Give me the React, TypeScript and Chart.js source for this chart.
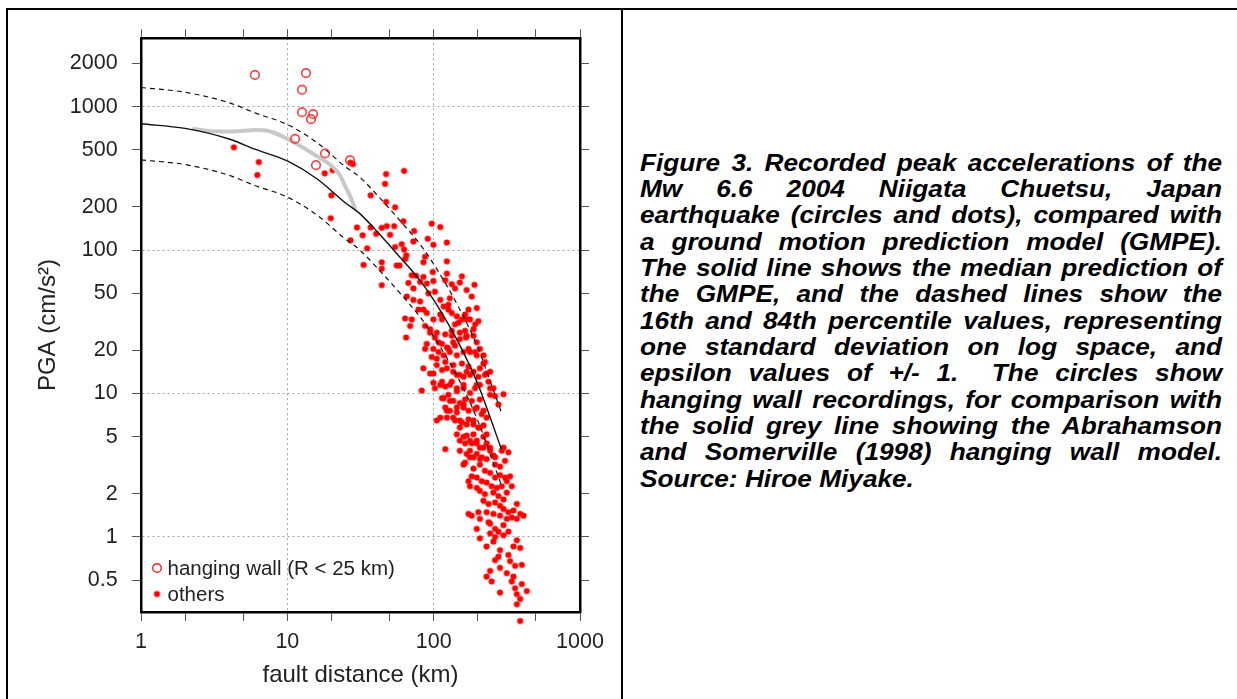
import React, { useEffect, useRef } from 'react';
import { Chart, registerables } from 'chart.js';

Chart.register(...registerables);

const FONT = '"Liberation Sans", Arial, Helvetica, sans-serif';

// ---- axis ticks ----
const xTickValues = [1, 2, 5, 10, 20, 50, 100, 200, 500, 1000];
const xTickLabels = ['1', '', '', '10', '', '', '100', '', '', '1000'];
const yTickValues = [0.5, 1, 2, 5, 10, 20, 50, 100, 200, 500, 1000, 2000];
const yTickLabels = ['0.5', '1', '2', '5', '10', '20', '50', '100', '200', '500', '1000', '2000'];

// ---- GMPE median and +/- 1 sigma ----
const gmpeDistance = [1, 2, 4, 6, 10, 16, 25, 31, 43, 59, 80, 100, 150, 200, 250, 290];
const gmpeMedian = [760, 705, 595, 505, 418, 313, 213, 181, 128, 89, 62, 45, 22, 11.7, 6.3, 4.1];
const gmpePlusSigma = [1360, 1260, 1065, 905, 750, 560, 380, 325, 230, 160, 111, 80, 39, 21, 11.3, 7.4];
const gmpeMinusSigma = [425, 395, 332, 282, 234, 175, 119, 101, 71.5, 50, 34.6, 25, 12.3, 6.5, 3.5, 2.3];

// ---- Abrahamson & Somerville (1998) hanging wall model (grey line) ----
const hwModelDistance = [2.3, 3, 4, 5, 6, 7, 8.2, 10, 12.5, 16, 20, 23, 25, 27, 29];
const hwModelPga = [700, 675, 670, 678, 688, 684, 655, 597, 525, 450, 387, 330, 275, 235, 196];

// ---- hanging wall recordings (open circles) ----
const hangingWallDistance = [6.0, 13.4, 12.6, 12.6, 15.0, 14.5, 11.3, 18.1, 15.7, 26.8];
const hangingWallPga = [1664, 1714, 1313, 914, 886, 818, 597, 472, 391, 423];

// ---- other recordings (filled dots): [fault distance km, PGA cm/s2] ----
const othersRecords: [number, number][] = [
  [4.31, 521], [6.38, 411], [6.24, 334], [18.0, 343], [20.4, 361], [20.0, 241], [19.8, 167], [27.0, 407],
  [28.1, 398], [37.1, 241], [29.9, 144], [37.1, 144], [32.7, 127], [40.4, 130], [27.0, 117], [35.1, 103], [33.2, 78.9],
  [47.3, 339], [62.8, 357], [46.5, 290], [47.3, 217], [54.5, 199], [62.1, 159], [44.2, 143], [47.8, 147],
  [53.7, 147], [50.4, 128], [97.0, 153], [111, 145], [73.5, 136],
  [54.5, 105], [60.5, 110], [62.8, 101], [65, 92], [63.8, 86.7], [58.3, 78.2], [55.9, 78.2], [44.2, 82.3],
  [44.2, 74.2], [44.2, 57.0],
  [91.1, 120], [99.6, 109], [123, 113], [72.7, 115], [87.4, 90.0], [123, 83.6], [85.1, 82.3], [98.5, 70.4],
  [85.1, 65.0], [70.8, 66.8], [75.8, 66.3], [67.2, 59.1], [80.8, 60.1], [89.7, 58.5], [99.6, 61.0], [72.7, 54.1],
  [92.1, 50.0], [102, 51.3],
  [123, 68.6], [120, 61.7], [156, 65.7], [133, 57.9], [151, 59.5], [140, 54.1], [168, 52.7], [190, 57.3],
  [182, 47.5], [173, 38.5], [197, 39.5],
  [72.7, 45.0], [65.5, 47.5], [80.8, 43.9], [78.7, 38.5], [89.7, 36.5], [111, 45.0], [126, 41.6], [129, 46.2],
  [111, 35.6], [126, 38.5],
  [63.8, 33.4], [70.8, 32.9], [69.0, 29.6], [64.8, 24.6], [87.4, 29.6], [94.5, 28.1], [99.6, 32.9], [114, 32.9],
  [133, 36.5], [144, 34.6], [156, 32.9], [148, 31.2], [140, 30.4], [168, 32.9], [192, 30.4], [202, 32.0],
  [187, 28.1], [164, 27.4], [133, 27.4], [120, 25.9], [105, 26.6], [102, 24.6],
  [89.7, 22.2], [99.6, 20.5], [108, 22.8], [114, 22.2], [123, 21.0], [136, 22.8], [151, 24.0], [166, 24.6],
  [187, 25.3], [197, 22.8], [207, 20.5], [219, 18.5], [224, 16.6], [230, 13.8], [243, 14.2], [219, 16.2],
  [192, 19.5], [173, 20.5], [160, 19.5], [144, 18.5], [129, 19.5], [117, 18.5], [105, 17.5], [97.0, 18.0],
  [85.1, 15.0], [99.6, 13.8], [114, 14.6], [123, 15.0], [136, 15.8], [156, 16.2], [173, 15.4], [187, 14.2],
  [202, 13.1], [207, 11.5], [177, 13.5], [160, 13.1], [144, 13.5], [133, 12.1], [120, 11.2], [111, 11.5],
  [102, 10.9], [82.9, 10.5],
  [114, 9.3], [126, 9.8], [144, 10.4], [160, 10.9], [177, 10.1], [192, 10.9], [243, 10.9], [263, 9.6],
  [300, 9.9], [277, 8.4], [207, 9.1], [182, 8.9], [164, 9.1], [151, 8.6], [136, 8.9], [120, 8.0],
  [129, 7.6], [144, 7.4], [160, 8.0], [173, 7.6], [192, 7.8], [213, 7.2], [230, 6.8], [123, 6.8],
  [105, 6.5], [140, 6.5], [156, 6.3], [173, 6.6], [187, 6.1], [202, 5.8], [219, 6.0], [151, 5.8],
  [144, 5.2], [168, 5.1], [187, 5.2], [197, 4.7], [219, 5.0], [230, 4.5], [243, 4.2], [207, 4.2],
  [182, 4.5], [164, 4.5], [151, 4.7], [177, 4.0], [197, 3.8], [213, 3.6], [230, 3.5], [256, 3.7],
  [263, 3.2], [284, 3.1], [307, 3.4], [292, 4.0], [324, 3.9], [177, 3.6], [164, 3.3], [160, 3.2],
  [187, 3.0], [207, 3.2], [224, 2.9], [243, 2.8], [263, 2.6], [284, 2.7], [307, 2.6], [333, 2.65],
  [316, 2.45], [292, 2.26], [270, 2.2], [249, 2.26], [230, 2.4], [213, 2.45], [197, 2.6], [182, 2.65],
  [173, 2.45], [177, 2.26], [197, 2.2], [207, 2.1], [224, 1.99], [256, 2.04], [277, 1.93], [300, 1.83],
  [316, 2.04], [342, 2.26],
  [219, 1.79], [237, 1.70], [263, 1.74], [284, 1.65], [300, 1.57], [324, 1.49], [351, 1.53], [370, 1.70],
  [390, 1.45], [411, 1.41], [342, 1.37], [316, 1.34], [284, 1.41], [256, 1.45], [230, 1.49], [207, 1.34],
  [202, 1.49], [173, 1.45], [182, 1.41], [237, 1.27], [263, 1.14], [277, 1.09], [300, 1.03], [263, 1.00],
  [243, 1.06], [256, 0.93], [284, 0.81], [277, 0.73], [324, 0.75], [351, 0.86], [370, 0.95], [390, 0.84],
  [333, 0.68], [360, 0.63], [400, 0.64], [351, 0.53], [316, 0.56], [284, 0.61], [263, 0.69], [243, 0.58],
  [230, 0.53], [249, 0.49], [284, 0.41], [342, 0.49], [370, 0.40], [360, 0.44], [400, 0.47], [433, 0.42],
  [390, 0.37], [370, 0.34], [390, 0.26], [230, 0.86], [207, 0.98], [300, 1.21], [243, 1.24], [370, 1.34],
  [324, 1.09], [197, 1.14],
  [117, 40.5], [164, 35.6], [151, 26.6], [87.4, 20.5], [108, 19.5], [207, 15.0], [168, 14.2], [136, 14.2],
  [120, 16.6], [105, 15.8], [99.6, 11.9], [237, 12.1], [243, 9.8], [144, 8.0], [111, 6.8], [168, 6.1],
  [230, 5.2], [120, 4.1], [151, 4.0],
  [85.1, 38.5], [177, 32.9], [168, 25.3], [133, 25.3], [94.5, 26.6], [126, 20.5], [140, 21.6], [177, 19.5],
  [197, 18.5], [151, 13.5], [94.5, 13.8], [114, 12.1], [129, 11.5], [144, 10.9], [160, 11.5], [197, 11.5],
  [224, 13.5], [256, 10.9], [117, 9.3], [129, 8.9], [160, 8.4], [197, 8.0], [219, 7.6], [123, 7.6],
  [136, 6.8], [151, 6.5], [187, 6.5], [207, 5.8], [160, 5.0], [177, 4.7], [197, 4.5], [219, 4.2],
  [168, 3.8], [187, 3.6], [207, 3.5], [243, 4.0], [263, 3.6], [300, 4.2],
];

const legendLabels = ['hanging wall (R < 25 km)', 'others'];

function isDecade(v: number) {
  const l = Math.log10(v);
  return Math.abs(l - Math.round(l)) < 1e-6;
}

function makeMarker(radius: number, filled: boolean, color: string, lineWidth: number) {
  const size = Math.ceil(radius * 2 + lineWidth + 4);
  const c = document.createElement('canvas');
  c.width = size;
  c.height = size;
  const g = c.getContext('2d')!;
  g.beginPath();
  g.arc(size / 2, size / 2, radius, 0, Math.PI * 2);
  if (filled) {
    g.fillStyle = color;
    g.fill();
  } else {
    g.strokeStyle = color;
    g.lineWidth = lineWidth;
    g.stroke();
  }
  return c;
}

export default function App() {
  const ref = useRef<HTMLCanvasElement>(null);

  useEffect(() => {
    const canvas = ref.current!;
    const dot = makeMarker(3.1, true, '#ff0000', 0);
    const ring = makeMarker(4.3, false, '#e8262a', 1.4);

    const gridFor = (tl: number, onArea: boolean) => ({
      display: true,
      drawOnChartArea: onArea,
      drawTicks: true,
      color: (c: any) => (c.tick && isDecade(c.tick.value) ? '#a3a3a3' : 'rgba(0,0,0,0)'),
      lineWidth: 1,
      tickColor: '#555',
      tickLength: tl,
      tickWidth: 1,
    });

    const legendPlugin = {
      id: 'hwLegend',
      afterDatasetsDraw(chart: any) {
        const { ctx, chartArea } = chart;
        ctx.save();
        const mx = chartArea.left + 16;
        const y1 = chartArea.bottom - 44;
        const y2 = chartArea.bottom - 18;
        ctx.drawImage(ring, mx - ring.width / 2, y1 - ring.height / 2);
        ctx.drawImage(dot, mx - dot.width / 2, y2 - dot.height / 2);
        ctx.font = `20.5px ${FONT}`;
        ctx.fillStyle = '#222';
        ctx.textAlign = 'left';
        ctx.textBaseline = 'middle';
        ctx.fillText(legendLabels[0], mx + 10.5, y1 + 1);
        ctx.fillText(legendLabels[1], mx + 10.5, y2 + 1);
        ctx.restore();
      },
    };

    const chart = new Chart(canvas, {
      type: 'scatter',
      data: {
        datasets: [
          {
            label: 'others',
            data: othersRecords.map(([d, p]) => ({ x: d, y: p })),
            pointStyle: dot as any,
            pointRadius: 12,
            clip: false as any,
            order: 5,
          },
          {
            label: 'hanging wall model',
            data: hwModelDistance.map((d, i) => ({ x: d, y: hwModelPga[i] })),
            showLine: true,
            borderColor: '#c8c8c8',
            borderWidth: 4,
            borderCapStyle: 'round',
            pointRadius: 0,
            cubicInterpolationMode: 'monotone',
            order: 4,
          } as any,
          {
            label: 'median',
            data: gmpeDistance.map((d, i) => ({ x: d, y: gmpeMedian[i] })),
            showLine: true,
            borderColor: '#111',
            borderWidth: 1.4,
            pointRadius: 0,
            cubicInterpolationMode: 'monotone',
            order: 3,
          } as any,
          {
            label: '+1 sigma',
            data: gmpeDistance.map((d, i) => ({ x: d, y: gmpePlusSigma[i] })),
            showLine: true,
            borderColor: '#111',
            borderWidth: 1.2,
            borderDash: [5, 4],
            pointRadius: 0,
            cubicInterpolationMode: 'monotone',
            order: 3,
          } as any,
          {
            label: '-1 sigma',
            data: gmpeDistance.map((d, i) => ({ x: d, y: gmpeMinusSigma[i] })),
            showLine: true,
            borderColor: '#111',
            borderWidth: 1.2,
            borderDash: [5, 4],
            pointRadius: 0,
            cubicInterpolationMode: 'monotone',
            order: 3,
          } as any,
          {
            label: 'hanging wall (R < 25 km)',
            data: hangingWallDistance.map((d, i) => ({ x: d, y: hangingWallPga[i] })),
            pointStyle: ring as any,
            pointRadius: 12,
            order: 1,
          },
        ],
      },
      options: {
        responsive: false,
        animation: false,
        events: [],
        layout: { padding: 0 },
        plugins: { legend: { display: false }, tooltip: { enabled: false } },
        scales: {
          x: {
            type: 'logarithmic',
            position: 'bottom',
            min: 1,
            max: 1000,
            afterBuildTicks: (s: any) => {
              s.ticks = xTickValues.map((v) => ({ value: v }));
            },
            afterFit: (s: any) => {
              s.height = 87;
            },
            ticks: {
              autoSkip: false,
              maxRotation: 0,
              padding: 8.2,
              color: '#222',
              font: { family: FONT, size: 21.5 },
              callback: (_v: any, i: number) => xTickLabels[i],
            },
            grid: gridFor(9, true),
            border: { display: true, color: '#000', width: 2.5, dash: [2, 3] },
            title: {
              display: true,
              text: 'fault distance (km)',
              color: '#222',
              font: { family: FONT, size: 24 },
              padding: { top: 0, bottom: 9.6 },
            },
          } as any,
          x2: {
            type: 'logarithmic',
            axis: 'x',
            position: 'top',
            min: 1,
            max: 1000,
            afterBuildTicks: (s: any) => {
              s.ticks = xTickValues.map((v) => ({ value: v }));
            },
            afterFit: (s: any) => {
              s.height = 16;
            },
            ticks: { display: false },
            grid: gridFor(9, false),
            border: { display: true, color: '#000', width: 2.5 },
          } as any,
          y: {
            type: 'logarithmic',
            position: 'left',
            min: 0.3,
            max: 3000,
            afterBuildTicks: (s: any) => {
              s.ticks = yTickValues.map((v) => ({ value: v }));
            },
            afterFit: (s: any) => {
              s.width = 131;
            },
            ticks: {
              autoSkip: false,
              padding: 14.3,
              color: '#222',
              font: { family: FONT, size: 21.5 },
              callback: (_v: any, i: number) => yTickLabels[i],
            },
            grid: gridFor(9, true),
            border: { display: true, color: '#000', width: 2.5, dash: [2, 3] },
            title: {
              display: true,
              text: 'PGA (cm/s\u00b2)',
              color: '#222',
              font: { family: FONT, size: 24 },
              padding: { top: 23.5, bottom: 0 },
            },
          } as any,
          y2: {
            type: 'logarithmic',
            axis: 'y',
            position: 'right',
            min: 0.3,
            max: 3000,
            afterBuildTicks: (s: any) => {
              s.ticks = yTickValues.map((v) => ({ value: v }));
            },
            afterFit: (s: any) => {
              s.width = 40;
            },
            ticks: { display: false },
            grid: gridFor(9, false),
            border: { display: true, color: '#000', width: 2.5 },
          } as any,
        },
      },
      plugins: [legendPlugin],
    });

    return () => chart.destroy();
  }, []);

  const captionLines = [
    'Figure 3. Recorded peak accelerations of the',
    'Mw 6.6 2004 Niigata Chuetsu, Japan',
    'earthquake (circles and dots), compared with',
    'a ground motion prediction model (GMPE).',
    'The solid line shows the median prediction of',
    'the GMPE, and the dashed lines show the',
    '16th and 84th percentile values, representing',
    'one standard deviation on log space, and',
    'epsilon values of +/- 1.\u00a0 The circles show',
    'hanging wall recordings, for comparison with',
    'the solid grey line showing the Abrahamson',
    'and Somerville (1998) hanging wall model.',
    'Source: Hiroe Miyake.',
  ];

  const line = (l: number, t: number, w: number, h: number) => (
    <div style={{ position: 'absolute', left: l, top: t, width: w, height: h, background: '#000' }} />
  );

  return (
    <div
      style={{
        position: 'absolute',
        left: 0,
        top: 0,
        width: 1237,
        height: 699,
        background: '#fff',
        overflow: 'hidden',
      }}
    >
      {line(6, 8, 1231, 2)}
      {line(6, 8, 2, 691)}
      {line(621, 8, 2, 691)}
      <canvas
        ref={ref}
        width={610}
        height={688}
        style={{ position: 'absolute', left: 10, top: 11, width: 610, height: 688 }}
      />
      <div
        style={{
          position: 'absolute',
          left: 640,
          top: 149.8,
          width: 544,
          transform: 'scaleX(1.07)',
          transformOrigin: '0 0',
          fontFamily: FONT,
          fontStyle: 'italic',
          fontWeight: 'bold',
          fontSize: 24.5,
          lineHeight: '26.33px',
          color: '#000',
        }}
      >
        {captionLines.map((t, i) => (
          <div
            key={i}
            style={{
              textAlign: i === captionLines.length - 1 ? 'left' : 'justify',
              textAlignLast: i === captionLines.length - 1 ? 'left' : 'justify',
              whiteSpace: 'nowrap',
            } as any}
          >
            {t}
          </div>
        ))}
      </div>
    </div>
  );
}
